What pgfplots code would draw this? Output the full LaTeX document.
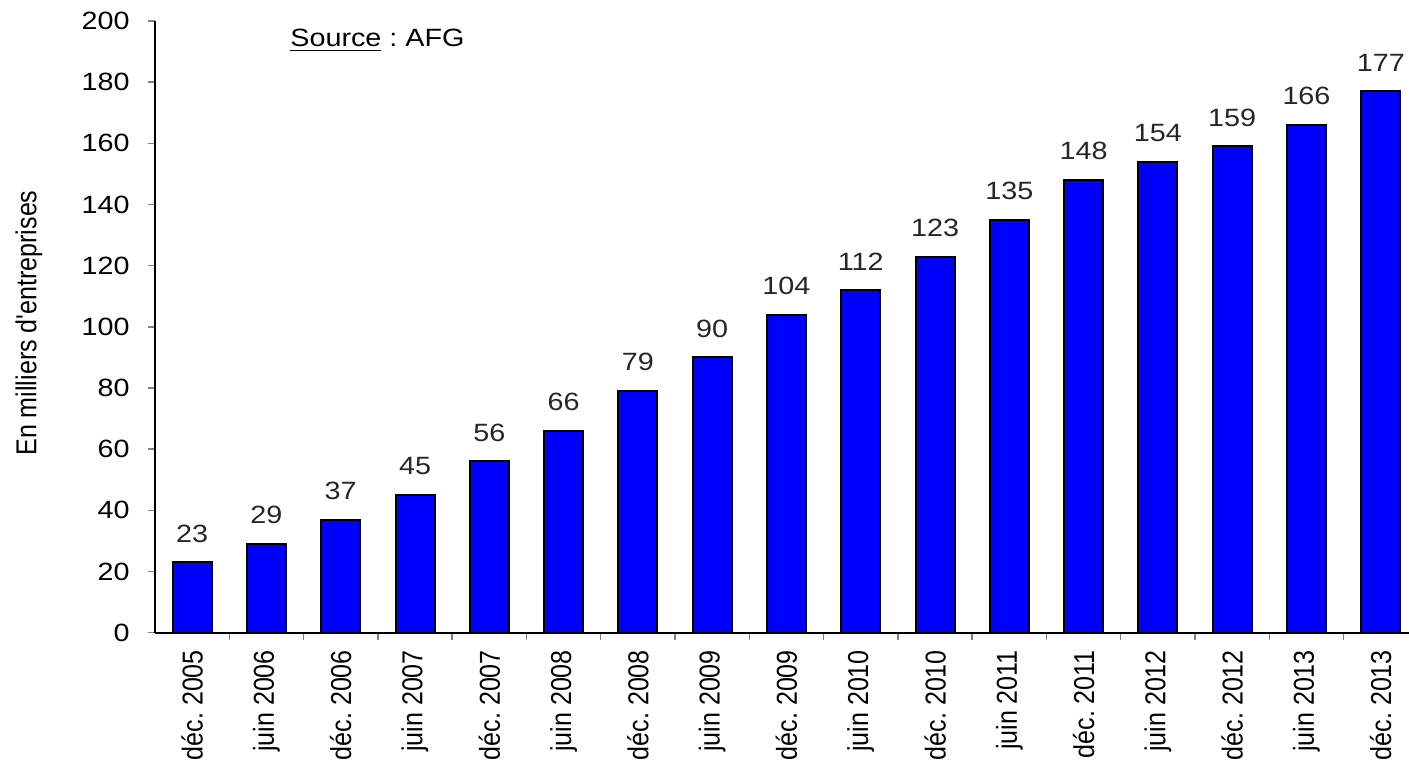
\documentclass[border=0pt]{standalone}
\usepackage{fontspec}
\setmainfont{Liberation Sans}
\newfontfamily\hfont{Liberation Sans}[FakeStretch=1.15]
\newfontfamily\vfont{Liberation Sans}[FakeStretch=0.87]
\usepackage{pgfplots}
\pgfplotsset{compat=1.18}
\frenchspacing
\begin{document}
\begin{tikzpicture}
\useasboundingbox (-77.5pt,-64.15pt) rectangle (627pt,316.35pt);
\begin{axis}[
  at={(0,0)}, anchor=south west,
  scale only axis,
  width=627pt, height=305.85pt,
  xmin=-0.5, xmax=16.38,
  ymin=0, ymax=200,
  ytick={0,20,...,200},
  xtick={0,...,16},
  xticklabels={d\'ec.\ 2005, juin 2006, d\'ec.\ 2006, juin 2007, d\'ec.\ 2007, juin 2008, d\'ec.\ 2008, juin 2009, d\'ec.\ 2009, juin 2010, d\'ec.\ 2010, juin 2011, d\'ec.\ 2011, juin 2012, d\'ec.\ 2012, juin 2013, d\'ec.\ 2013},
  minor x tick num=1,
  axis x line*=bottom,
  axis y line*=left,
  axis line style={black, line width=1pt},
  tick align=outside,
  major tick length=3.5pt,
  minor tick length=3.5pt,
  major x tick style={draw=none},
  minor x tick style={gray, line width=0.7pt},
  major y tick style={gray, line width=0.7pt},
  /pgf/number format/assume math mode=true,
  yticklabel style={font=\hfont\fontsize{12.5}{15}\selectfont, anchor=east, inner sep=0pt, xshift=-9pt},
  xticklabel style={font=\vfont\fontsize{14.4}{16}\selectfont, yshift=-5pt, rotate=90, anchor=east, inner sep=0pt},
  ylabel={En milliers d'entreprises},
  ylabel style={font=\vfont\fontsize{14.4}{16}\selectfont, at={(axis description cs:-0.1005,0.5063)}, anchor=center},
  clip=false,
  enlargelimits=false,
  ybar,
  bar width=0.525,
  nodes near coords,
  nodes near coords style={font=\hfont\fontsize{12.5}{15}\selectfont, anchor=south, inner sep=0pt, yshift=9.5pt, black!85},
]
\addplot[fill={rgb,255:red,0;green,0;blue,255}, draw=black, line width=1pt] coordinates {
(0,23) (1,29) (2,37) (3,45) (4,56) (5,66) (6,79) (7,90) (8,104) (9,112) (10,123) (11,135) (12,148) (13,154) (14,159) (15,166) (16,177)};
\end{axis}
\node[anchor=base west, inner sep=0pt, font=\hfont\fontsize{12.5}{15}\selectfont] at (67.5pt,292.85pt) {\underline{Source} : AFG};
\end{tikzpicture}
\end{document}
